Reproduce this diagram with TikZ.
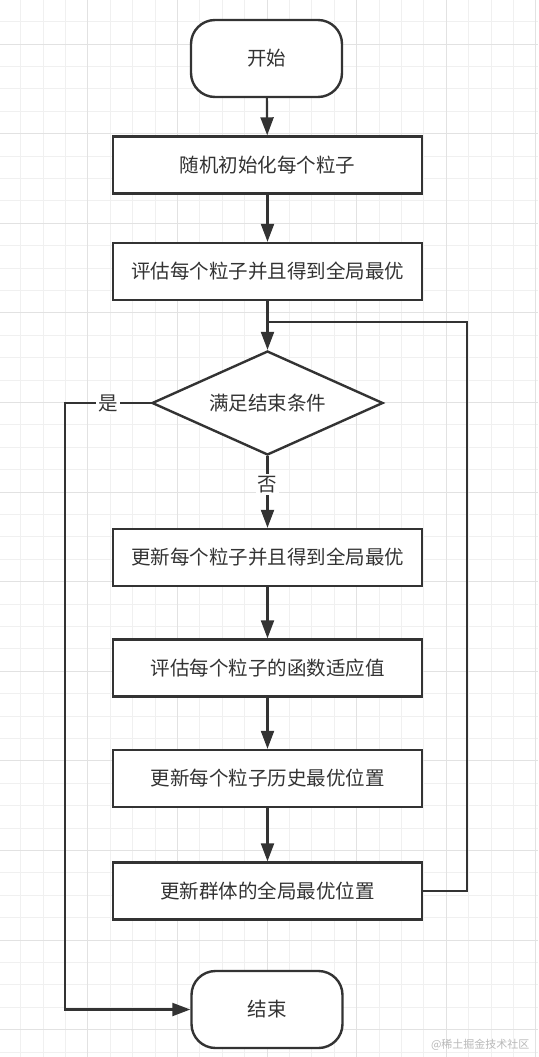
\documentclass[tikz,border=0pt]{standalone}
\usepackage{fontspec}
\usepackage{xcolor}
\usepackage{tikz}
\usetikzlibrary{arrows.meta,shapes.geometric}
\newfontfamily\cjk{Noto Sans CJK SC}
\definecolor{darkline}{RGB}{51,51,51}
\definecolor{gridminor}{RGB}{240,240,240}
\definecolor{gridmajor}{RGB}{226,226,226}
\definecolor{marktext}{RGB}{185,185,185}

\begin{document}
\begin{tikzpicture}[x=1pt,y=-1pt,
    every node/.style={font=\cjk\fontsize{19.5}{22}\selectfont,text=darkline},
    terminal/.style={draw=darkline,line width=2.4pt,fill=white,rounded corners=24pt,minimum width=151pt,minimum height=77pt},
    process/.style={draw=darkline,line width=2.4pt,fill=white,minimum width=309pt,minimum height=57pt},
    decision/.style={draw=darkline,line width=2.4pt,fill=white,diamond,aspect=2.2,inner sep=0pt,minimum width=231pt,minimum height=104pt},
    flow/.style={draw=darkline,line width=2.2pt,-{Triangle[length=18pt,width=13pt]}},
    tag/.style={fill=white,inner sep=2pt}]
    \useasboundingbox (0,0) rectangle (538,1057);
    \fill[white] (0,0) rectangle (538,1057);

    % Grid
    \foreach \i in {0,...,23}
        \draw[gridminor,line width=1pt] ({20.7+22.4*\i},0) -- ({20.7+22.4*\i},1057);
    \foreach \j in {0,...,46}
        \draw[gridminor,line width=1pt] (0,{21.7+22.4*\j}) -- (538,{21.7+22.4*\j});
    \foreach \i in {0,...,5}
        \draw[gridmajor,line width=1pt] ({87.9+89.6*\i},0) -- ({87.9+89.6*\i},1057);
    \foreach \j in {0,...,11}
        \draw[gridmajor,line width=1pt] (0,{44.1+89.6*\j}) -- (538,{44.1+89.6*\j});

    % Steps
    \node[terminal] (start) at (266.5,58.5) {开始};
    \node[process] (init) at (267.5,165) {随机初始化每个粒子};
    \node[process] (eval) at (267.5,271.5) {评估每个粒子并且得到全局最优};
    \node[decision] (check) at (267.5,403) {满足结束条件};
    \node[process] (update) at (267.5,557.5) {更新每个粒子并且得到全局最优};
    \node[process] (fitness) at (267.5,668) {评估每个粒子的函数适应值};
    \node[process] (pbest) at (267.5,778.5) {更新每个粒子历史最优位置};
    \node[process] (gbest) at (267.5,891) {更新群体的全局最优位置};
    \node[terminal] (stop) at (267,1009.5) {结束};

    % Main flow
    \draw[flow] (start) -- (init);
    \draw[flow] (init) -- (eval);
    \draw[flow] (eval) -- (check);
    \draw[flow] (check) -- node[tag,pos=0.4] {否} (update);
    \draw[flow] (update) -- (fitness);
    \draw[flow] (fitness) -- (pbest);
    \draw[flow] (pbest) -- (gbest);

    % Loop back
    \coordinate (merge) at (267.5,322);
    \draw[darkline,line width=2.2pt] (gbest.east) -- ++(44,0) |- (merge);

    % Exit
    \draw[flow] (check.west) -- node[tag] {是} ++(-86,0) |- (stop.west);

    \node[font=\cjk\fontsize{11}{13}\selectfont,text=marktext,anchor=east] (mark) at (533,1045) {@稀土掘金技术社区};
\end{tikzpicture}
\end{document}
